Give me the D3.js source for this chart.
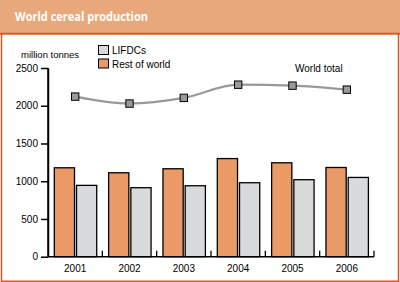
<!DOCTYPE html>
<html>
<head>
<script src="https://cdnjs.cloudflare.com/ajax/libs/d3/7.8.5/d3.min.js"></script>
<style>
  body { margin: 0; background: #fff; }
  svg { display: block; font-family: "DejaVu Sans", sans-serif; }
</style>
</head>
<body>
<svg id="chart" width="400" height="282"></svg>
<script>
// data
var years = ["2001", "2002", "2003", "2004", "2005", "2006"];
var restOfWorld = [1178, 1112, 1165, 1300, 1244, 1182];
var lifdcs = [945, 914, 940, 980, 1020, 1050];
var worldTotal = [2121, 2029, 2104, 2279, 2266, 2213];
var yTicks = [0, 500, 1000, 1500, 2000, 2500];

var svg = d3.select("#chart");

// header band + frame
svg.append("rect").attr("x", 0).attr("y", 0).attr("width", 400).attr("height", 33).attr("fill", "#E9A87C");
svg.append("rect").attr("x", 0).attr("y", 32.7).attr("width", 400).attr("height", 2).attr("fill", "#DA561F");
svg.append("path")
    .attr("d", "M1.5,34 V281.3 H398.5 V34")
    .attr("fill", "none").attr("stroke", "#DA561F").attr("stroke-width", 1.5);

svg.append("text").attr("x", 15).attr("y", 21)
    .attr("fill", "#fff").attr("font-size", 12.5).attr("font-weight", "bold")
    .attr("font-family", "'Open Sans', sans-serif")
    .attr("textLength", 133).attr("lengthAdjust", "spacingAndGlyphs")
    .text("World cereal production");

var x = d3.scaleBand().domain(years).range([48, 374]);
var y = d3.scaleLinear().domain([0, 2500]).range([256.7, 68]);

// y axis
var yAxis = svg.append("g").attr("transform", "translate(48,0)")
    .call(d3.axisLeft(y).tickValues(yTicks).tickFormat(d3.format("d"))
        .tickSize(7).tickSizeOuter(0).tickPadding(3));
yAxis.select(".domain").attr("stroke", "#000").attr("stroke-width", 1.5);
yAxis.selectAll("line").attr("stroke-width", 1.5);
yAxis.selectAll("text").attr("font-size", 10).attr("fill", "#000")
    .attr("font-family", "'Liberation Sans', sans-serif");
svg.append("line").attr("x1", 48).attr("x2", 48).attr("y1", y(2500)).attr("y2", y(0))
    .attr("stroke", "#000").attr("stroke-width", 1.5);

// bars
var inner = d3.scaleBand().domain(["rest", "lifdc"]).range([6.3, x.bandwidth() - 5.6]).paddingInner(0.09);
var g = svg.append("g");
years.forEach(function (yr, i) {
    g.append("rect")
        .attr("x", x(yr) + inner("rest")).attr("y", y(restOfWorld[i]))
        .attr("width", inner.bandwidth()).attr("height", y(0) - y(restOfWorld[i]))
        .attr("fill", "#E99A67").attr("stroke", "#000").attr("stroke-width", 1.3);
    g.append("rect")
        .attr("x", x(yr) + inner("lifdc")).attr("y", y(lifdcs[i]))
        .attr("width", inner.bandwidth()).attr("height", y(0) - y(lifdcs[i]))
        .attr("fill", "#D9DADC").attr("stroke", "#000").attr("stroke-width", 1.3);
});

// x axis
svg.append("line").attr("x1", 48).attr("x2", 374).attr("y1", y(0)).attr("y2", y(0))
    .attr("stroke", "#000").attr("stroke-width", 1.5);
years.forEach(function (yr) {
    svg.append("line").attr("x1", x(yr) + x.bandwidth()).attr("x2", x(yr) + x.bandwidth())
        .attr("y1", y(0)).attr("y2", y(0) - 6).attr("stroke", "#000").attr("stroke-width", 1.3);
    svg.append("text").attr("x", x(yr) + x.bandwidth() / 2).attr("y", y(0) + 15)
        .attr("text-anchor", "middle").attr("font-size", 10)
        .attr("font-family", "'Liberation Sans', sans-serif").text(yr);
});

// world total line
var line = d3.line()
    .x(function (d, i) { return x(years[i]) + x.bandwidth() / 2; })
    .y(function (d) { return y(d); })
    .curve(d3.curveMonotoneX);
svg.append("path").datum(worldTotal).attr("d", line)
    .attr("fill", "none").attr("stroke", "#999").attr("stroke-width", 2.2);
worldTotal.forEach(function (v, i) {
    svg.append("rect")
        .attr("x", x(years[i]) + x.bandwidth() / 2 - 3.7).attr("y", y(v) - 3.7)
        .attr("width", 7.4).attr("height", 7.4)
        .attr("fill", "#9A9A9A").attr("stroke", "#000").attr("stroke-width", 1);
});
svg.append("text").attr("x", 295).attr("y", 72).attr("font-size", 10)
    .attr("font-family", "'Liberation Sans', sans-serif").text("World total");

// unit label
svg.append("text").attr("x", 21).attr("y", 58).attr("font-size", 9.5)
    .attr("font-family", "'Liberation Sans', sans-serif").text("million tonnes");

// legend
var legend = [["LIFDCs", "#D9DADC"], ["Rest of world", "#E99A67"]];
legend.forEach(function (d, i) {
    svg.append("rect").attr("x", 98.5).attr("y", 45.5 + i * 13.5).attr("width", 10).attr("height", 9)
        .attr("fill", d[1]).attr("stroke", "#000").attr("stroke-width", 1);
    svg.append("text").attr("x", 112).attr("y", 54 + i * 13.5).attr("font-size", 10)
        .attr("font-family", "'Liberation Sans', sans-serif").text(d[0]);
});
</script>
</body>
</html>
